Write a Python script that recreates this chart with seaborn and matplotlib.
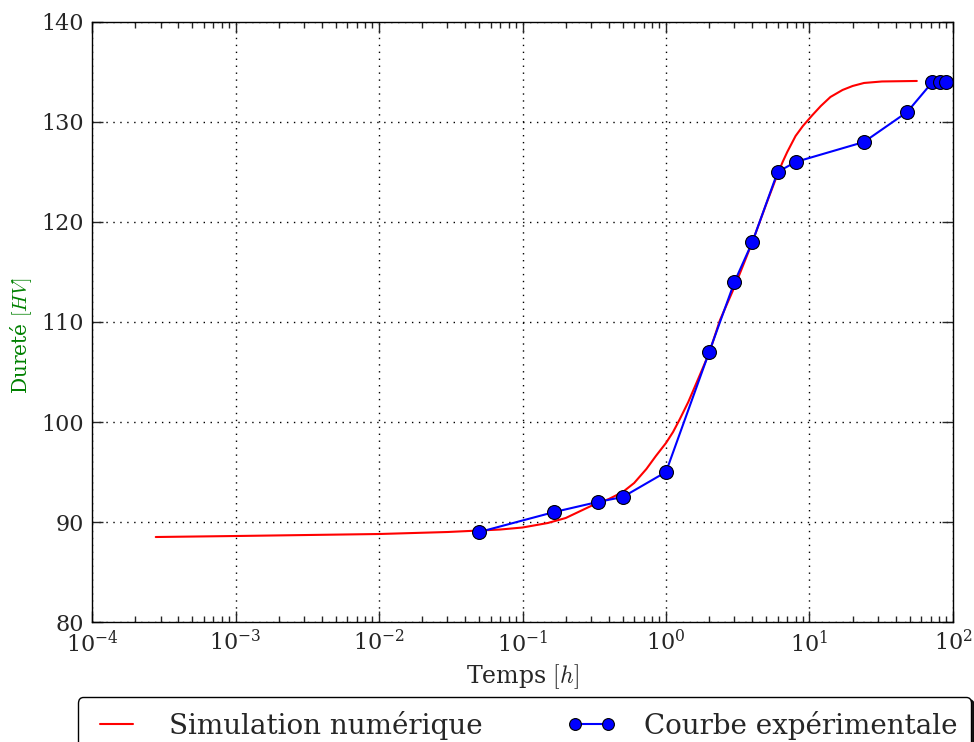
import numpy as np
import pandas as pd
import matplotlib
matplotlib.use("Agg")
import matplotlib.pyplot as plt
import seaborn as sns


# Courbe expérimentale
temps_exp  = [0.05, 0.1667, 0.3333, 0.5, 1.0, 2.0, 3.0, 4.0, 6.0, 8.0, 24.0, 48.0, 72.0, 81.0, 90.0]
durete_exp = [89.0, 91.0, 92.0, 92.5, 95.0, 107.0, 114.0, 118.0, 125.0, 126.0, 128.0, 131.0, 134.0, 134.0, 134.0]

# Simulation numérique
temps_sim  = [2.78e-4, 1e-3, 1e-2, 3e-2, 0.05, 0.07, 0.1, 0.15, 0.2, 0.3, 0.4, 0.5, 0.6, 0.73,
              0.85, 1.0, 1.12, 1.25, 1.43, 1.63, 2.0, 2.38, 3.0, 3.5, 4.0, 5.0, 6.0, 6.5, 7.0,
              8.0, 9.0, 10.5, 12.0, 14.0, 17.0, 20.0, 24.0, 32.0, 56.0]
durete_sim = [88.5, 88.6, 88.8, 89.0, 89.15, 89.25, 89.45, 89.9, 90.4, 91.6, 92.3, 93.0, 93.9, 95.3,
              96.6, 97.9, 99.0, 100.3, 102.0, 103.9, 106.9, 110.2, 113.5, 115.9, 118.0, 121.8, 124.8,
              126.0, 127.0, 128.6, 129.6, 130.7, 131.6, 132.5, 133.2, 133.6, 133.9, 134.05, 134.1]

df_exp = pd.DataFrame({"t": temps_exp, "hv": durete_exp})
df_sim = pd.DataFrame({"t": temps_sim, "hv": durete_sim})

sns.set_style("ticks")
plt.rcParams["font.family"] = ["DejaVu Serif"]
plt.rcParams["mathtext.fontset"] = "cm"
plt.rcParams["xtick.direction"] = "in"
plt.rcParams["ytick.direction"] = "in"

fig = plt.figure(figsize=(9.74, 7.42), dpi=100)
ax = fig.add_axes([0.0945, 0.1617, 0.8839, 0.8087])

sns.lineplot(data=df_sim, x="t", y="hv", ax=ax, color="red", lw=1.5,
             sort=False, label="Simulation numérique")
sns.lineplot(data=df_exp, x="t", y="hv", ax=ax, color="blue", lw=1.5,
             marker="o", markersize=10, markerfacecolor="blue",
             markeredgecolor="black", markeredgewidth=0.8,
             sort=False, label="Courbe expérimentale")

ax.set_xscale("log")
ax.set_xlim(1e-4, 1e2)
ax.set_ylim(80, 140)
ax.set_yticks(np.arange(80, 141, 10))

ax.grid(True, which="major", color="black", linestyle=(0, (1, 4)), linewidth=1.0)
ax.tick_params(which="both", top=True, right=True, labelsize=16, width=1.0)
ax.tick_params(which="major", length=8, pad=6)
ax.tick_params(which="minor", length=4)
for s in ax.spines.values():
    s.set_linewidth(1.0)
    s.set_color("black")

ax.set_xlabel(r"Temps $[h]$", fontsize=17, labelpad=4)
ax.set_ylabel(r"Dureté $[HV]$", fontsize=14.5, color="green")
ax.yaxis.set_label_coords(-0.068, 0.477)

ax.legend(loc="upper center", bbox_to_anchor=(0.5385, 1 - 697 / 742),
          bbox_transform=fig.transFigure, borderaxespad=0, ncol=2, fontsize=20,
          numpoints=2, markerscale=0.85, handlelength=1.8, handletextpad=1.0,
          columnspacing=3.0, borderpad=0.5, fancybox=True,
          shadow={"color": "black", "alpha": 0.9},
          edgecolor="black", framealpha=1.0)

fig.savefig("out.png", dpi=100)
